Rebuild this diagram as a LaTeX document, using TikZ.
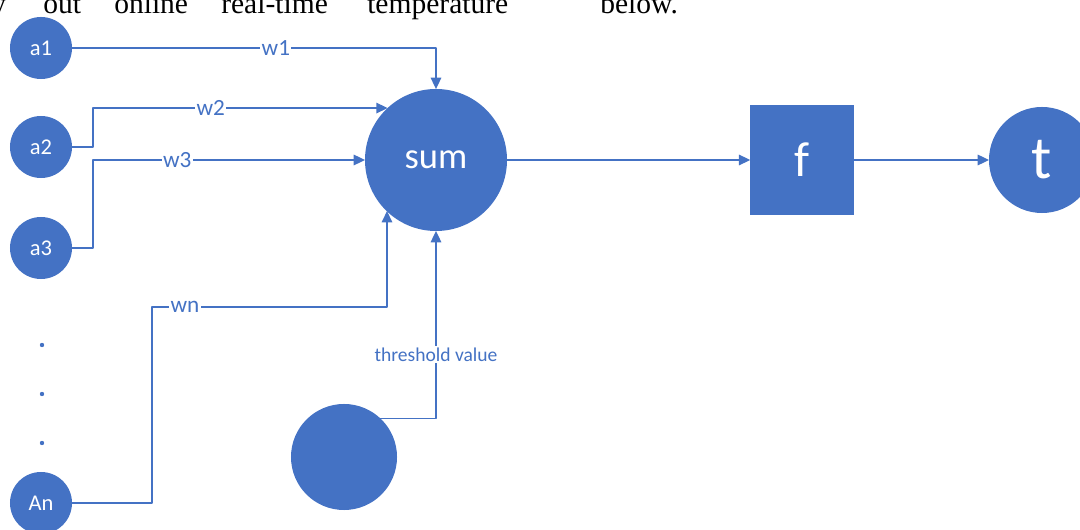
\documentclass[tikz,border=0pt]{standalone}
\usepackage{fontspec}
\setmainfont{Carlito}
\newfontfamily\pageserif{Liberation Serif}
\usetikzlibrary{arrows.meta, calc}
\definecolor{nnblue}{HTML}{4472C4}

\begin{document}
\begin{tikzpicture}[x=0.025cm, y=-0.025cm, line join=round,
		wire/.style={draw=nnblue, line width=1pt},
		arr/.style={wire, -{Triangle[length=8pt, width=7.5pt]}},
		unit/.style={circle, fill=nnblue, text=white, inner sep=0pt, outer sep=0pt},
		weight/.style={fill=white, text=nnblue, inner sep=1pt, font=\fontsize{16.5}{16.5}\selectfont}]
		
		% Frame of the picture
		\useasboundingbox (0,0) rectangle (1080,530);
		\clip (0,0) rectangle (1080,530);
		
		% 1. Cut-off line of the page above the figure
		\begin{scope}[every node/.style={anchor=base west, inner sep=0pt, font=\pageserif\fontsize{21}{21}\selectfont}]
			\node (pgy) at (-9,14) {y};
			\node (pgout) at (43,14) {out};
			\node (pgonline) at (114,14) {online};
			\node (pgreal) at (221,14) {real-time};
			\node (pgtemp) at (367,14) {temperature};
			\node (pgbelow) at (600,14) {below.};
		\end{scope}
		
		% 2. Inputs
		\foreach \nm/\lbl/\yy in {a1/a1/48, a2/a2/147, a3/a3/248, An/An/503} {
			\node[unit, minimum size=1.55cm, font=\fontsize{16}{16}\selectfont] (\nm) at (41,\yy) {\lbl};
		}
		\foreach \yy in {345, 394, 443} {
			\fill[nnblue] (42,\yy) circle (2.2);
		}
		
		% 3. Summing unit, activation and output
		\node[unit, minimum size=3.55cm, font=\fontsize{26}{26}\selectfont] (sum) at (436,160) {sum};
		\node[fill=nnblue, text=white, minimum width=2.575cm, minimum height=2.725cm, inner sep=0pt,
			font=\fontsize{35}{35}\selectfont] (f) at (802,160) {f};
		\node[unit, minimum size=2.65cm, font=\fontsize{43}{43}\selectfont] (t) at (1042,160) {t};
		\node[unit, minimum size=2.65cm] (thr) at (344,457) {};
		
		% 4. Weighted connections
		\coordinate (wnbend) at (387,307);
		\draw[arr] (a1.east) -| (sum.north) node[weight, pos=0.28] {w1};
		\draw[arr] (a2.east) -- ++(21,0) |- (sum.133) node[weight, pos=0.70] {w2};
		\draw[arr] (a3.east) -- ++(21,0) |- (sum.west) node[weight, pos=0.655] {w3};
		\draw[arr] (An.east) -- ++(80,0) |- (wnbend) node[weight, pos=0.57] {wn} -- (wnbend |- sum.226);
		\draw[arr] (thr.47) -| (sum.south) node[weight, pos=0.67, font=\fontsize{13.9}{13.9}\selectfont] {threshold value};
		
		% 5. Output path
		\draw[arr] (sum) -- (f);
		\draw[arr] (f) -- (t);
		
\end{tikzpicture}
\end{document}
